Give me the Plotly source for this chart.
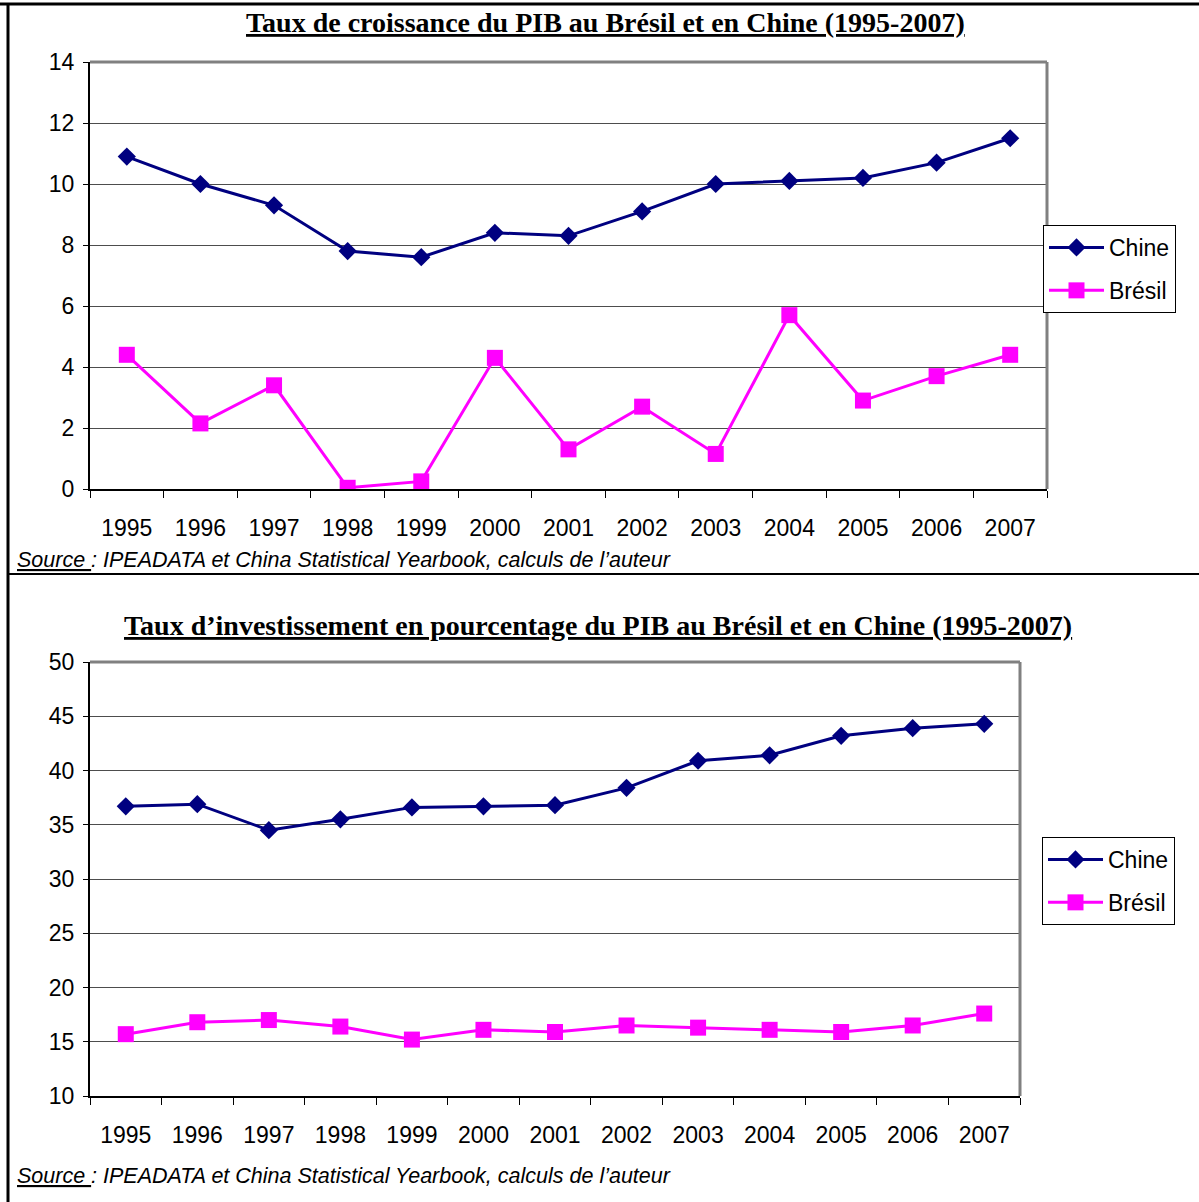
import plotly.graph_objects as go

years = ["1995", "1996", "1997", "1998", "1999", "2000", "2001",
         "2002", "2003", "2004", "2005", "2006", "2007"]

# Chart 1: GDP growth rate (%)
chine_croissance = [10.9, 10.0, 9.3, 7.8, 7.6, 8.4, 8.3, 9.1, 10.0, 10.1, 10.2, 10.7, 11.5]
bresil_croissance = [4.4, 2.15, 3.4, 0.04, 0.25, 4.3, 1.3, 2.7, 1.15, 5.7, 2.9, 3.7, 4.4]

# Chart 2: investment rate (% of GDP)
chine_invest = [36.7, 36.9, 34.5, 35.5, 36.6, 36.7, 36.8, 38.4, 40.9, 41.4, 43.2, 43.9, 44.3]
bresil_invest = [15.7, 16.8, 17.0, 16.4, 15.2, 16.1, 15.9, 16.5, 16.3, 16.1, 15.9, 16.5, 17.6]

titre1 = "Taux de croissance du PIB au Brésil et en Chine (1995-2007)"
titre2 = "Taux d’investissement en pourcentage du PIB au Brésil et en Chine (1995-2007)"
source_label = "Source "
source_rest = ": IPEADATA et China Statistical Yearbook, calculs de l’auteur"

W, H = 1199, 1202
NAVY = "#000080"
MAG = "#FF00FF"
SANS = "Liberation Sans Narrow, Arial Narrow, Liberation Sans, Arial, sans-serif"


def px_x(v):
    return v / W


def px_y(v):
    return 1 - v / H


fig = go.Figure()

fig.add_trace(go.Scatter(x=years, y=chine_croissance, name="Chine", mode="lines+markers",
                         line=dict(color=NAVY, width=3),
                         marker=dict(symbol="diamond", size=14, color=NAVY),
                         xaxis="x", yaxis="y", legend="legend", legendgroup="a"))
fig.add_trace(go.Scatter(x=years, y=bresil_croissance, name="Brésil", mode="lines+markers",
                         line=dict(color=MAG, width=3),
                         marker=dict(symbol="square", size=16, color=MAG),
                         xaxis="x", yaxis="y", legend="legend", legendgroup="b"))
fig.add_trace(go.Scatter(x=years, y=chine_invest, name="Chine", mode="lines+markers",
                         line=dict(color=NAVY, width=3),
                         marker=dict(symbol="diamond", size=14, color=NAVY),
                         xaxis="x2", yaxis="y2", legend="legend2", legendgroup="c"))
fig.add_trace(go.Scatter(x=years, y=bresil_invest, name="Brésil", mode="lines+markers",
                         line=dict(color=MAG, width=3),
                         marker=dict(symbol="square", size=16, color=MAG),
                         xaxis="x2", yaxis="y2", legend="legend2", legendgroup="d"))

xcommon = dict(type="category", range=[-0.5, len(years) - 0.5], autorange=False,
               showline=True, linecolor="black", linewidth=2,
               ticks="outside", ticklen=7, tickcolor="black", tickwidth=1,
               tickson="boundaries", showgrid=False, zeroline=False, automargin=False,
               tickfont=dict(family=SANS, size=23, color="black"),
               ticklabelstandoff=17, fixedrange=True)
ycommon = dict(showline=True, linecolor="black", linewidth=2,
               ticks="outside", ticklen=5, tickcolor="black", tickwidth=1,
               showgrid=True, gridcolor="#4d4d4d", gridwidth=1, zeroline=False,
               automargin=False,
               tickfont=dict(family=SANS, size=23, color="black"),
               ticklabelstandoff=4, fixedrange=True)

legcommon = dict(xanchor="left", yanchor="top", bgcolor="white",
                 bordercolor="black", borderwidth=1,
                 font=dict(family=SANS, size=23, color="black"),
                 tracegroupgap=10, itemwidth=55)

fig.update_layout(
    template="none",
    width=W, height=H,
    margin=dict(l=0, r=0, t=0, b=0, pad=0, autoexpand=False),
    paper_bgcolor="white", plot_bgcolor="white",
    xaxis=dict(domain=[px_x(90), px_x(1047)], anchor="y", **xcommon),
    yaxis=dict(domain=[px_y(489), px_y(62)], anchor="x", range=[0, 14], dtick=2, **ycommon),
    xaxis2=dict(domain=[px_x(90), px_x(1020)], anchor="y2", **xcommon),
    yaxis2=dict(domain=[px_y(1096), px_y(662)], anchor="x2", range=[10, 50], dtick=5, **ycommon),
    legend=dict(x=px_x(1043), y=px_y(225), **legcommon),
    legend2=dict(x=px_x(1042), y=px_y(837), **legcommon),
    showlegend=True,
)

shapes = []
# outer frame and separator
shapes.append(dict(type="line", xref="paper", yref="paper", x0=0, x1=1, y0=px_y(4), y1=px_y(4),
                   line=dict(color="black", width=3)))
shapes.append(dict(type="line", xref="paper", yref="paper", x0=px_x(8), x1=px_x(8), y0=px_y(3), y1=0,
                   line=dict(color="black", width=3)))
shapes.append(dict(type="line", xref="paper", yref="paper", x0=px_x(8), x1=1, y0=px_y(574), y1=px_y(574),
                   line=dict(color="black", width=2)))
# grey top/right plot frame
for xa, ya in (("x", "y"), ("x2", "y2")):
    shapes.append(dict(type="line", xref=f"{xa} domain", yref=f"{ya} domain", x0=0, x1=1, y0=1, y1=1,
                       line=dict(color="#808080", width=3)))
    shapes.append(dict(type="line", xref=f"{xa} domain", yref=f"{ya} domain", x0=1, x1=1, y0=0, y1=1,
                       line=dict(color="#808080", width=3)))
fig.update_layout(shapes=shapes)

TITLEFONT = dict(family="Liberation Serif, Times New Roman, serif", size=28, color="black")
SRCFONT = dict(family="Liberation Sans, Arial, sans-serif", size=21.5, color="black")
src_html = f"<i><u>{source_label}</u>{source_rest}</i>"

fig.add_annotation(text=f"<b><u>{titre1}</u></b>", xref="paper", yref="paper",
                   x=px_x(605), y=px_y(23), xanchor="center", yanchor="middle",
                   showarrow=False, font=TITLEFONT)
fig.add_annotation(text=f"<b><u>{titre2}</u></b>", xref="paper", yref="paper",
                   x=px_x(598), y=px_y(625), xanchor="center", yanchor="middle",
                   showarrow=False, font=TITLEFONT)
fig.add_annotation(text=src_html, xref="paper", yref="paper",
                   x=px_x(15), y=px_y(560), xanchor="left", yanchor="middle",
                   showarrow=False, font=SRCFONT)
fig.add_annotation(text=src_html, xref="paper", yref="paper",
                   x=px_x(15), y=px_y(1176), xanchor="left", yanchor="middle",
                   showarrow=False, font=SRCFONT)

fig.write_html("out.html", config={"displayModeBar": False},
               post_script="document.body.style.margin='0';document.body.style.overflow='hidden';")
